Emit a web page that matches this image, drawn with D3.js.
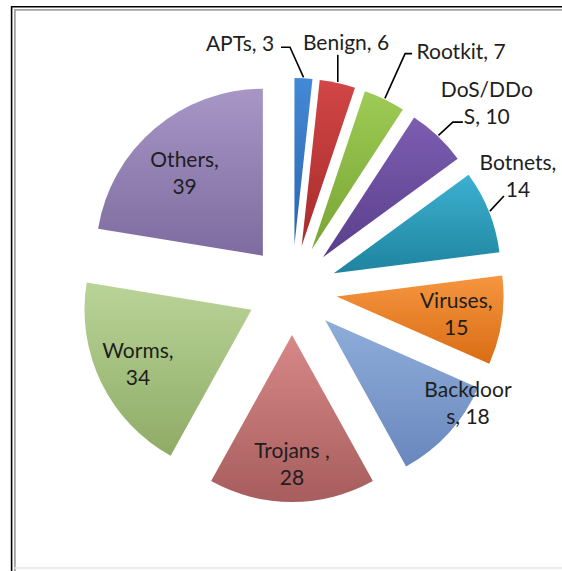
<!DOCTYPE html>
<html>
<head>
<meta charset="utf-8">
<script src="https://cdn.jsdelivr.net/npm/d3@7"></script>
<style>
  body { margin: 0; background: #fff; }
  svg { display: block; }
  text { font-family: Lato, "Open Sans", sans-serif; fill: #1e1e1e; }
</style>
</head>
<body>
<div id="chart"></div>
<script>
// data (clockwise from 12 o'clock)
var categories = ["APTs", "Benign", "Rootkit", "DoS/DDoS", "Botnets", "Viruses", "Backdoors", "Trojans", "Worms", "Others"];
var values = [3, 6, 7, 10, 14, 15, 18, 28, 34, 39];
// label text as it wraps in the picture
var labelLines = [["APTs, 3"], ["Benign, 6"], ["Rootkit, 7"], ["DoS/DDo", "S, 10"], ["Botnets,", "14"],
                  ["Viruses,", "15"], ["Backdoor", "s, 18"], ["Trojans ,", "28"], ["Worms,", "34"], ["Others,", "39"]];

// colours: top / bottom of each slice's gradient
var topColors = ["#4389d6", "#d24646", "#9ecb55", "#7c5db1", "#3cb0d1", "#f6953f", "#8fadda", "#d78888", "#b9d497", "#a796c6"];
var bottomColors = ["#2c66ae", "#a72b2b", "#78a534", "#5a3f8b", "#1f849f", "#d96d15", "#6987bc", "#a75d5d", "#8fab66", "#7e6b9f"];

// label placement: polar from the exploded slice tip (r in px, da = degrees off the bisector)
var labelLayout = [
  {r: 209, da: -18.2, out: true, lead: {ax: 41, ay: 4, ex: 9}},
  {r: 208, da: -0.1, out: true, lead: {vertical: true, ay: 12}},
  {r: 248, da: 11.2, out: true, lead: {ax: -49, ay: 2, ex: -7}},
  {r: 225, da: 3.3, out: true, lead: {ax: -24, ay: 19, ex: -10}},
  {r: 208, da: -6, out: true, lead: {ax: -14, ay: 19.5, ex: 0}},
  {r: 121, da: 0.2},
  {r: 165, da: -12.3},
  {r: 129, da: 0},
  {r: 126, da: 0.2},
  {r: 114, da: -3}
];

var w = 562, h = 571;
var cx = 292, cy = 290;   // pie centre
var radius = 167;
var explode = 45;         // how far every slice is pulled out
var lineGap = 27;

var svg = d3.select("#chart").append("svg")
    .attr("width", w)
    .attr("height", h);

var defs = svg.append("defs");
values.forEach(function(v, i) {
  var grad = defs.append("linearGradient")
      .attr("id", "grad" + i)
      .attr("x1", 0).attr("y1", 0).attr("x2", 0).attr("y2", 1);
  grad.append("stop").attr("offset", "0%").attr("stop-color", topColors[i]);
  grad.append("stop").attr("offset", "100%").attr("stop-color", bottomColors[i]);
});
defs.append("filter").attr("id", "soft")
    .append("feGaussianBlur").attr("stdDeviation", 0.7);

// frame round the picture
svg.append("line").attr("x1", 11).attr("x2", w).attr("y1", 6.7).attr("y2", 6.7)
    .attr("stroke", "#000").attr("stroke-width", 1.6);
svg.append("line").attr("x1", 11.6).attr("x2", 11.6).attr("y1", 6).attr("y2", h)
    .attr("stroke", "#000").attr("stroke-width", 1.6);
svg.append("line").attr("x1", 14).attr("x2", w).attr("y1", 9.9).attr("y2", 9.9)
    .attr("stroke", "#a3a3a3").attr("stroke-width", 1.8);
svg.append("line").attr("x1", 14.9).attr("x2", 14.9).attr("y1", 9).attr("y2", h)
    .attr("stroke", "#a3a3a3").attr("stroke-width", 1.8);
svg.append("line").attr("x1", 14).attr("x2", w).attr("y1", 568).attr("y2", 568)
    .attr("stroke", "#e4e4e4").attr("stroke-width", 1.5);

var pie = d3.pie().sort(null).value(function(d) { return d; });
var arcs = pie(values);

var arc = d3.arc().innerRadius(0).outerRadius(radius);

function mid(a) { return (a.startAngle + a.endAngle) / 2; }
function tipOf(a) {
  var m = mid(a);
  return [cx + explode * Math.sin(m), cy - explode * Math.cos(m)];
}

// slices
svg.selectAll("path.slice")
  .data(arcs)
  .enter()
  .append("path")
  .attr("class", "slice")
  .attr("transform", function(d) { var t = tipOf(d); return "translate(" + t[0] + "," + t[1] + ")"; })
  .attr("d", arc)
  .attr("fill", function(d, i) { return "url(#grad" + i + ")"; })
  .attr("filter", "url(#soft)");

// labels
arcs.forEach(function(d, i) {
  var lay = labelLayout[i];
  var t = tipOf(d);
  var ang = mid(d) + lay.da * Math.PI / 180;
  var lx = t[0] + lay.r * Math.sin(ang);
  var ly = t[1] - lay.r * Math.cos(ang);
  var lines = labelLines[i];

  var txt = svg.append("text")
      .attr("text-anchor", "middle")
      .attr("font-size", "21px");
  lines.forEach(function(s, k) {
    txt.append("tspan")
      .attr("x", lx)
      .attr("y", ly + (k - (lines.length - 1) / 2) * lineGap)
      .attr("dy", "0.35em")
      .text(s);
  });

  if (lay.out) {
    // leader line from the slice edge to the label
    var m = mid(d);
    var px = t[0] + (radius + 1) * Math.sin(m);
    var py = t[1] - (radius + 1) * Math.cos(m);
    var pts;
    if (lay.lead.vertical) {
      pts = [[px, py], [px, ly + lay.lead.ay]];
    } else {
      var ax = lx + lay.lead.ax, ay = ly + lay.lead.ay;
      pts = [[px, py], [ax + lay.lead.ex, ay], [ax, ay]];
    }
    svg.append("path")
      .attr("d", d3.line()(pts))
      .attr("fill", "none")
      .attr("stroke", "#000")
      .attr("stroke-width", 1.6);
  }
});
</script>
</body>
</html>
